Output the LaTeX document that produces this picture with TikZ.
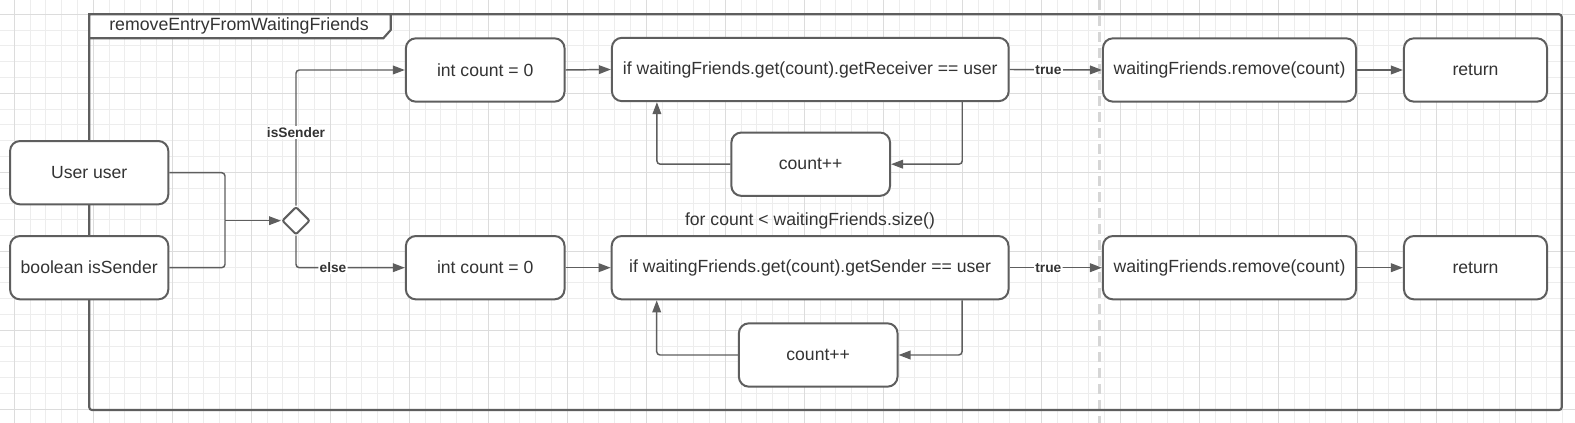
\documentclass[tikz,border=0pt]{standalone}
\usepackage{fontspec}
\setmainfont{Liberation Sans}
\usetikzlibrary{arrows.meta,shapes.geometric}
\definecolor{linegray}{HTML}{5E5E5E}
\definecolor{textgray}{HTML}{333333}
\definecolor{gridminor}{HTML}{EDEDED}
\definecolor{gridmajor}{HTML}{DCDCDC}
\definecolor{splitgray}{HTML}{D6D6D6}

\begin{document}
\begin{tikzpicture}[x=0.75pt, y=-0.75pt,
        box/.style={draw=linegray, line width=1.5pt, rounded corners=7.5pt, fill=white, text=textgray,
            minimum height=47.5pt, inner sep=0pt, font=\fontsize{13.2}{15}\selectfont},
        choice/.style={draw=linegray, line width=1.5pt, diamond, aspect=1, rounded corners=1.5pt, fill=white,
            minimum width=21pt, minimum height=21pt, inner sep=0pt},
        link/.style={draw=linegray, line width=1.1pt, rounded corners=2.5pt},
        flow/.style={link, -{Triangle[length=9pt, width=6.5pt]}},
        guard/.style={fill=white, text=textgray, inner sep=1pt, font=\fontsize{10.3}{12}\selectfont\bfseries}]
        \useasboundingbox (0,0) rectangle (1575,423);
        \fill [white] (0,0) rectangle (1575,423);

        \foreach \i in {-1,...,99} {
            \draw [gridminor, line width=0.8pt] ({14.3+15.8*\i},0) -- ({14.3+15.8*\i},423);
        }
        \foreach \j in {-1,...,26} {
            \draw [gridminor, line width=0.8pt] (0,{14.3+15.8*\j}) -- (1575,{14.3+15.8*\j});
        }
        \foreach \i in {0,...,19} {
            \draw [gridmajor, line width=0.8pt] ({14.3+79*\i},0) -- ({14.3+79*\i},423);
        }
        \foreach \j in {0,...,5} {
            \draw [gridmajor, line width=0.8pt] (0,{14.3+79*\j}) -- (1575,{14.3+79*\j});
        }

        \draw [splitgray, line width=2.25pt, dash pattern=on 7.5pt off 4.5pt] (1099,0) -- (1099,423);

        \draw [linegray, line width=1.6pt, rounded corners=2pt] (89.3,14.3) rectangle (1561.7,410);
        \filldraw [draw=linegray, fill=white, line width=1.6pt] (89.3,14.3) -- (390.7,14.3) -- (390.7,30)
            -- (383.3,38.3) -- (89.3,38.3) -- cycle;
        \node [anchor=base, text=textgray, font=\fontsize{13.3}{15}\selectfont] (title) at (239,30.3) {removeEntryFromWaitingFriends};

        \node [box, minimum width=118.7pt] (user) at (89.2,172.7) {User user};
        \node [box, minimum width=118.7pt] (flag) at (89.2,267.7) {boolean isSender};
        \node [choice] (decide) at (296,220.7) {};
        \coordinate (join) at (225,220.7);

        \node [box, minimum width=119pt] (initA) at (485.2,70) {int count = 0};
        \node [box, minimum width=297.6pt] (checkA) at (810.3,69.5) {if waitingFriends.get(count).getReceiver == user};
        \node [box, minimum width=119pt] (incA) at (810.7,164.2) {count++};
        \node [box, minimum width=189.8pt] (removeA) at (1229.5,70) {waitingFriends.remove(count)};
        \node [box, minimum width=107.3pt] (retA) at (1475.5,70) {return};

        \node [text=textgray, font=\fontsize{13.2}{15}\selectfont] (loopnote) at (810,220.7) {for count < waitingFriends.size()};

        \node [box, minimum width=119pt] (initB) at (485.2,267.7) {int count = 0};
        \node [box, minimum width=297.6pt] (checkB) at (810.1,267.7) {if waitingFriends.get(count).getSender == user};
        \node [box, minimum width=119pt] (incB) at (818.2,355) {count++};
        \node [box, minimum width=189.8pt] (removeB) at (1229.5,267.7) {waitingFriends.remove(count)};
        \node [box, minimum width=107.3pt] (retB) at (1475.5,267.7) {return};

        \draw [link] (user.east) -| (join);
        \draw [link] (flag.east) -| (join);
        \draw [flow] (join) -- (decide.west);
        \draw [flow] (decide.north) |- node[guard, pos=0.27] {isSender} (initA.west);
        \draw [flow] (decide.south) |- node[guard, pos=0.67] {else} (initB.west);

        \draw [flow] (initA.east) -- (checkA.west);
        \draw [flow] (checkA.east) -- node[guard, pos=0.42] {true} (removeA.west);
        \draw [flow] (removeA.east) -- (retA.west);
        \draw [flow] ([xshift=-35.6pt]checkA.south east) |- (incA.east);
        \draw [flow] (incA.west) -| ([xshift=34.5pt]checkA.south west);

        \draw [flow] (initB.east) -- (checkB.west);
        \draw [flow] (checkB.east) -- node[guard, pos=0.42] {true} (removeB.west);
        \draw [flow] (removeB.east) -- (retB.west);
        \draw [flow] ([xshift=-35.6pt]checkB.south east) |- (incB.east);
        \draw [flow] (incB.west) -| ([xshift=34.5pt]checkB.south west);
\end{tikzpicture}
\end{document}
